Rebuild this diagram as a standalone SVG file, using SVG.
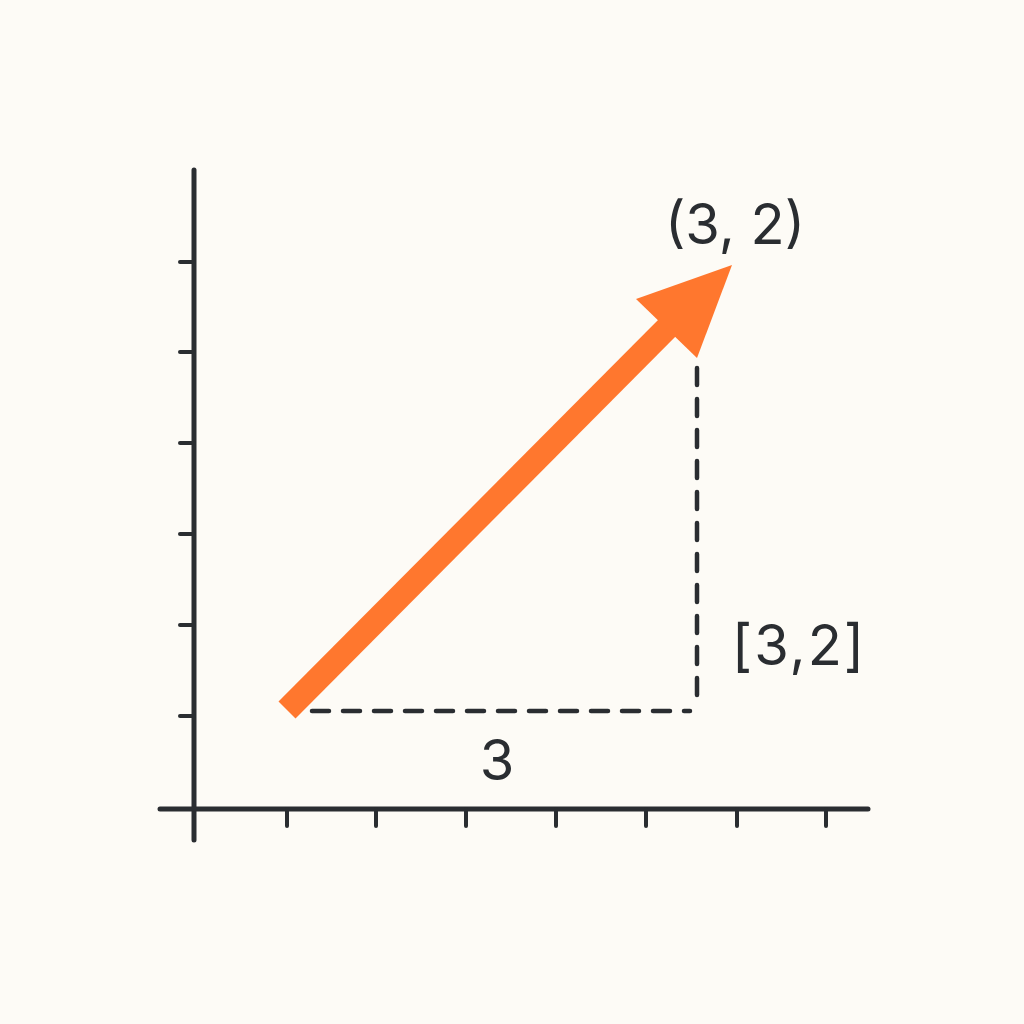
<svg xmlns="http://www.w3.org/2000/svg" width="1024" height="1024" viewBox="0 0 1024 1024">
<style>
.axis{stroke:#2a2d31;stroke-width:5;stroke-linecap:round;fill:none}
.tick{stroke:#2a2d31;stroke-width:4;stroke-linecap:round}
.dash{stroke:#2a2d31;stroke-width:4.5;stroke-linecap:round;stroke-dasharray:17 14;fill:none}
.lbl{font-family:Inter,"Liberation Sans",sans-serif;fill:#2a2d31}
</style>
<rect width="1024" height="1024" fill="#fdfbf6"/>
<g id="axes">
<line class="axis" x1="194" y1="170" x2="194" y2="840"/>
<line class="axis" x1="160" y1="809" x2="868" y2="809"/>
<g id="y-ticks">
<line class="tick" x1="180" y1="262" x2="194" y2="262"/>
<line class="tick" x1="180" y1="352" x2="194" y2="352"/>
<line class="tick" x1="180" y1="443" x2="194" y2="443"/>
<line class="tick" x1="180" y1="534" x2="194" y2="534"/>
<line class="tick" x1="180" y1="625" x2="194" y2="625"/>
<line class="tick" x1="180" y1="716" x2="194" y2="716"/>
</g>
<g id="x-ticks">
<line class="tick" x1="287" y1="809" x2="287" y2="826"/>
<line class="tick" x1="376" y1="809" x2="376" y2="826"/>
<line class="tick" x1="466" y1="809" x2="466" y2="826"/>
<line class="tick" x1="556" y1="809" x2="556" y2="826"/>
<line class="tick" x1="646" y1="809" x2="646" y2="826"/>
<line class="tick" x1="737" y1="809" x2="737" y2="826"/>
<line class="tick" x1="826" y1="809" x2="826" y2="826"/>
</g>
</g>
<g id="connectors">
<path class="dash" d="M312 711 H690"/>
<path class="dash" d="M697 368 V708"/>
</g>
<g id="vector">
<line x1="287" y1="710" x2="675" y2="320" stroke="#ff772e" stroke-width="24"/>
<polygon points="732,265 697,358 636,299" fill="#ff772e"/>
</g>
<g id="labels">
<text class="lbl" x="735" y="244" font-size="56" text-anchor="middle">(3, 2)</text>
<text class="lbl" x="799" y="665" font-size="56" text-anchor="middle" letter-spacing="2">[3,2]</text>
<text class="lbl" x="497" y="780" font-size="56" text-anchor="middle">3</text>
</g>
</svg>
